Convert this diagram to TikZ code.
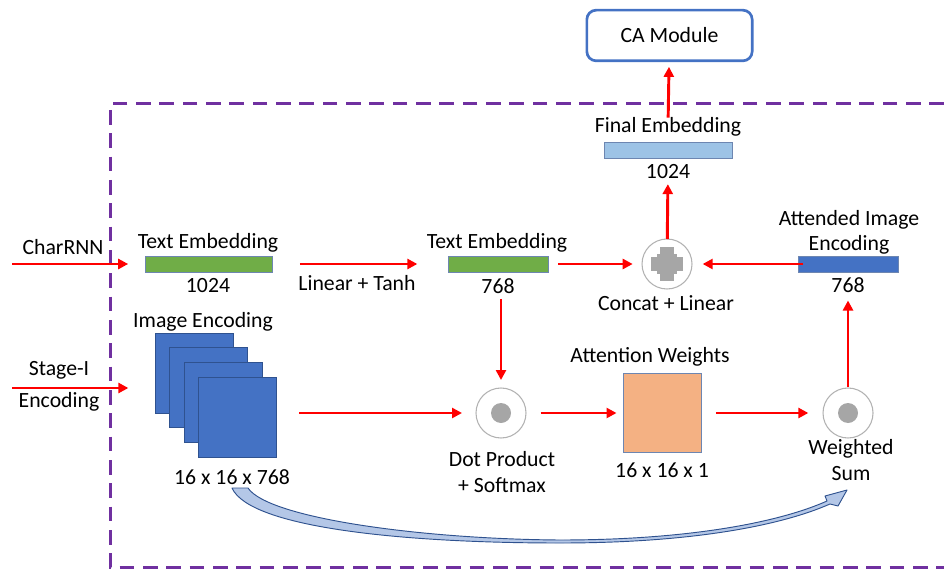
\documentclass[tikz,border=0pt]{standalone}
\usepackage{fontspec}
\setmainfont{Carlito}
\usepackage{xcolor}
\usetikzlibrary{arrows.meta,positioning}

\definecolor{frameviolet}{HTML}{7030A0}
\definecolor{modblue}{HTML}{4472C4}
\definecolor{darkblue}{HTML}{2F528F}
\definecolor{embgreen}{HTML}{70AD47}
\definecolor{finblue}{HTML}{9DC3E6}
\definecolor{attorange}{HTML}{F4B183}
\definecolor{skipblue}{HTML}{B4C7E7}
\definecolor{opgray}{HTML}{A6A6A6}

\begin{document}
\begin{tikzpicture}[
    x=0.75pt, y=-0.75pt,
    every node/.style={font=\fontsize{16.3}{19}\selectfont, inner sep=0pt, outer sep=0pt, align=center},
    bar/.style={draw=darkblue!70, fill=#1, minimum height=12pt},
    fmap/.style={draw=darkblue, line width=0.6pt, fill=modblue, minimum width=58.5pt, minimum height=60pt},
    op/.style={circle, draw=gray!60, line width=0.8pt, minimum size=37.5pt},
    flow/.style={red, line width=2.2pt, -{Triangle[length=7.5pt, width=7.5pt]}}
]
\useasboundingbox (0,0) rectangle (944,570);

% dashed frame of the module
\draw[frameviolet, line width=2.25pt, dash pattern=on 11pt off 6.5pt]
    (944,104) -- (110,104) -- (110,567) -- (944,567);

% top module
\node[draw=modblue, line width=2pt, rounded corners=7pt, minimum width=124pt, minimum height=38pt]
    (camod) at (669.5,35.5) {CA Module};

% text embeddings
\node (txtlbl1) at (208,243) {Text Embedding};
\node[bar=embgreen, minimum width=95pt] (bar1) at (208.5,264) {};
\node (num1) at (208,286) {1024};
\node (txtlbl2) at (497,243) {Text Embedding};
\node[bar=embgreen, minimum width=75pt] (bar2) at (498,264) {};
\node (num2) at (498,286) {768};
\node (lintanh) at (357,283) {Linear + Tanh};

% final embedding
\node (finlbl) at (668,127) {Final Embedding};
\node[bar=finblue, minimum width=96pt] (finbar) at (668,150) {};
\node (finnum) at (668,172) {1024};

% attended image encoding
\node (attlbl) at (849,232) {Attended Image\\Encoding};
\node[bar=modblue, minimum width=75pt] (attbar) at (848,264) {};
\node (attnum) at (848,285) {768};

% concat operator
\node[op] (concat) at (667,264) {};
\fill[opgray] ([shift={(-16,-7)}]concat.center) rectangle ++(32,14);
\fill[opgray] ([shift={(-7,-17)}]concat.center) rectangle ++(14,34);
\fill[opgray] ([shift={(-10,-10)}]concat.center) rectangle ++(20,20);
\node (concatlbl) at (666,303) {Concat + Linear};

% image encoding stack
\node (imglbl) at (203,322) {Image Encoding};
\foreach \k in {1,...,4}
    \node[fmap] (img\k) at ({194+14.5*(\k-1)},{373+14.7*(\k-1)}) {};
\node (imgdim) at (232,477) {16 x 16 x 768};

% dot product
\node[op] (dot) at (501,413) {};
\fill[opgray] (dot.center) circle (7.5pt);
\node (dotlbl) at (502,472) {Dot Product\\+ Softmax};

% attention weights
\node (attwlbl) at (650,357) {Attention Weights};
\node[draw=darkblue!70, line width=0.8pt, fill=attorange, minimum size=59pt] (attw) at (662.5,413) {};
\node (attwdim) at (662,470) {16 x 16 x 1};

% weighted sum
\node[op] (wsum) at (848,413) {};
\fill[opgray] (wsum.center) circle (7.5pt);
\node (wsumlbl) at (851,460) {Weighted\\Sum};

% inputs
\node (charlbl) at (63,247) {CharRNN};
\node (stagelbl) at (59,386) {Stage-I\\[5pt]Encoding};
\coordinate (charin) at (12,264);
\coordinate (stagein) at (12,388);

% connections
\draw[flow, shorten >=12.75pt] (charin) -- (bar1);
\draw[flow, shorten >=20pt] (stagein) -- (img1.west |- stagein);
\draw[flow, shorten <=21pt, shorten >=23pt] (bar1) -- (bar2);
\draw[flow, shorten <=7.5pt, shorten >=7pt] (bar2) -- (concat);
\draw[flow, shorten <=-4pt, shorten >=8pt] (attbar) -- (concat);
\draw[flow, shorten >=3.75pt] (concat) -- (finnum);
\draw[flow, shorten >=4.5pt] (finlbl) -- (camod);
\draw[flow, shorten <=4pt, shorten >=6pt] (dot |- num2.south) -- (dot);
\draw[flow, shorten <=17pt, shorten >=10.5pt] (img4.east |- dot) -- (dot);
\draw[flow, shorten <=11pt, shorten >=5pt] (dot) -- (attw);
\draw[flow, shorten <=10.5pt, shorten >=11pt] (attw) -- (wsum);
\draw[flow, shorten <=1pt, shorten >=6pt] (wsum) -- (attnum);

% skip path from image encoding to weighted sum
\draw[darkblue, line width=0.7pt, fill=skipblue, line join=round]
    (232,488) -- (248,488)
    .. controls (268,518) and (420,539) .. (560,540)
    .. controls (690,540) and (780,522) .. (827,501)
    -- (825,496) -- (847,490) -- (838,506) -- (830,504)
    .. controls (780,526) and (690,543) .. (560,543)
    .. controls (405,543) and (250,528) .. (232,488) -- cycle;
\end{tikzpicture}
\end{document}
